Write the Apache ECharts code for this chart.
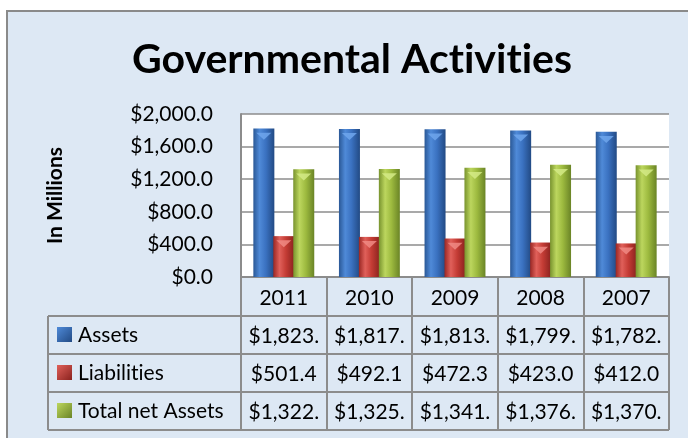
<!DOCTYPE html>
<html>
<head>
<meta charset="utf-8">
<script src="https://cdn.jsdelivr.net/npm/echarts@6/dist/echarts.min.js"></script>
<style>
  html, body { margin: 0; padding: 0; background: #fff; }
  #chart { width: 688px; height: 438px; }
</style>
</head>
<body>
<div id="chart"></div>
<script>
// data
const years = ['2011', '2010', '2009', '2008', '2007']
const seriesNames = ['Assets', 'Liabilities', 'Total net Assets']
const assets = [1823.0, 1817.0, 1813.0, 1799.0, 1782.0]
const liabilities = [501.4, 492.1, 472.3, 423.0, 412.0]
const netAssets = [1322.0, 1325.0, 1341.0, 1376.0, 1370.0]
const yMin = 0
const yMax = 2000
const yStep = 400

// layout
const plotLeft = 241
const plotTop = 114
const plotRight = 669
const plotBottom = 277
const rowH = 38
const headerH = 39
const tableLeft = 48
const gridColor = '#8c8c8c'
const font = 'Lato, "Open Sans", sans-serif'

const palettes = [
  ['#2a5896', '#4f8ad8', '#3a71c0', '#224a84'],
  ['#9a2723', '#e0605a', '#c43c35', '#8a221e'],
  ['#78932e', '#bcd65e', '#9dba3f', '#6a8426']
]
const capColors = ['#6ea6ec', '#f08a84', '#d4ea86']

function barGradient(c) {
  return new echarts.graphic.LinearGradient(0, 0, 1, 0, [
    { offset: 0, color: c[0] },
    { offset: 0.3, color: c[1] },
    { offset: 0.6, color: c[2] },
    { offset: 1, color: c[3] }
  ])
}

// Lato joins "ti" into a ligature, the original font does not
function noLig(s) {
  return s.replace(/ti/g, 't\u200Ci')
}

// Excel clips the cell text at the column edge
function cell(v) {
  const s = '$' + v.toLocaleString('en-US', { minimumFractionDigits: 1, maximumFractionDigits: 1 })
  return s.length > 7 ? s.slice(0, 7) : s
}

const values = [assets, liabilities, netAssets]

const chart = echarts.init(document.getElementById('chart'))

const graphics = [
  {
    type: 'rect',
    z: -1,
    silent: true,
    shape: { x: 7, y: 11, width: 700, height: 450 },
    style: { fill: '#dde8f4', stroke: '#8a8a8a', lineWidth: 2 }
  },
  {
    type: 'line',
    shape: { x1: tableLeft, y1: plotBottom + headerH, x2: tableLeft, y2: plotBottom + headerH + rowH * 3 },
    style: { stroke: gridColor, lineWidth: 2 }
  }
]
for (let r = 0; r <= 3; r++) {
  const y = plotBottom + headerH + rowH * r
  graphics.push({
    type: 'line',
    shape: { x1: tableLeft, y1: y, x2: plotRight, y2: y },
    style: { stroke: gridColor, lineWidth: 2 }
  })
}
seriesNames.forEach((name, i) => {
  const cy = plotBottom + headerH + rowH * i + rowH / 2
  graphics.push({
    type: 'rect',
    shape: { x: 57, y: cy - 8, width: 15, height: 15 },
    style: {
      fill: new echarts.graphic.LinearGradient(0, 0, 1, 1, [
        { offset: 0, color: palettes[i][1] },
        { offset: 1, color: palettes[i][3] }
      ])
    }
  })
  graphics.push({
    type: 'text',
    x: 78,
    y: cy,
    style: { text: noLig(name), font: '21px ' + font, fill: '#000', verticalAlign: 'middle' }
  })
})

const barSeries = seriesNames.map((name, i) => ({
  name: name,
  type: 'bar',
  barWidth: 21,
  barGap: '-5%',
  barCategoryGap: '28%',
  itemStyle: { color: barGradient(palettes[i]) },
  data: values[i]
}))

const capSeries = seriesNames.map((name, i) => ({
  name: name + ' cap',
  type: 'pictorialBar',
  barWidth: 21,
  barGap: '-5%',
  barCategoryGap: '28%',
  symbol: 'triangle',
  symbolRotate: 180,
  symbolSize: [15, 7],
  symbolPosition: 'end',
  symbolOffset: [0, '60%'],
  z: 3,
  itemStyle: { color: capColors[i], opacity: 0.85 },
  data: values[i]
}))

chart.setOption({
  animation: false,
  title: {
    text: noLig('Governmental Activities'),
    left: 132,
    top: 39,
    padding: 0,
    textStyle: { fontFamily: font, fontSize: 41, fontWeight: 'bold', color: '#000' }
  },
  graphic: graphics,
  grid: {
    left: plotLeft,
    top: plotTop,
    right: 688 - plotRight,
    bottom: 438 - plotBottom,
    show: true,
    backgroundColor: '#fff',
    borderWidth: 0
  },
  xAxis: {
    type: 'category',
    data: years,
    axisLine: { show: true, lineStyle: { color: gridColor, width: 2 } },
    axisTick: { show: true, interval: 0, length: headerH + rowH * 3, lineStyle: { color: gridColor, width: 2 } },
    axisLabel: {
      interval: 0,
      margin: 2,
      lineHeight: rowH,
      formatter: (val, idx) => [
        '{y|' + val + '}',
        '{v|' + cell(assets[idx]) + '}',
        '{v|' + cell(liabilities[idx]) + '}',
        '{v|' + cell(netAssets[idx]) + '}'
      ].join('\n'),
      rich: {
        y: { fontFamily: font, fontSize: 21, color: '#000', lineHeight: rowH },
        v: { fontFamily: font, fontSize: 21, color: '#000', lineHeight: rowH }
      }
    }
  },
  yAxis: {
    type: 'value',
    min: yMin,
    max: yMax,
    interval: yStep,
    name: 'In Millions',
    nameLocation: 'middle',
    nameGap: 175,
    nameTextStyle: { fontFamily: font, fontSize: 21, fontWeight: 'bold', color: '#000' },
    axisLine: { show: true, lineStyle: { color: gridColor, width: 2 } },
    axisTick: { show: false },
    axisLabel: {
      margin: 28,
      padding: [8, 0, 0, 0],
      fontFamily: font,
      fontSize: 21,
      color: '#000',
      formatter: v => '$' + v.toLocaleString('en-US', { minimumFractionDigits: 1, maximumFractionDigits: 1 })
    },
    splitLine: { lineStyle: { color: gridColor, width: 1.5 } }
  },
  series: barSeries.concat(capSeries)
})
</script>
</body>
</html>
